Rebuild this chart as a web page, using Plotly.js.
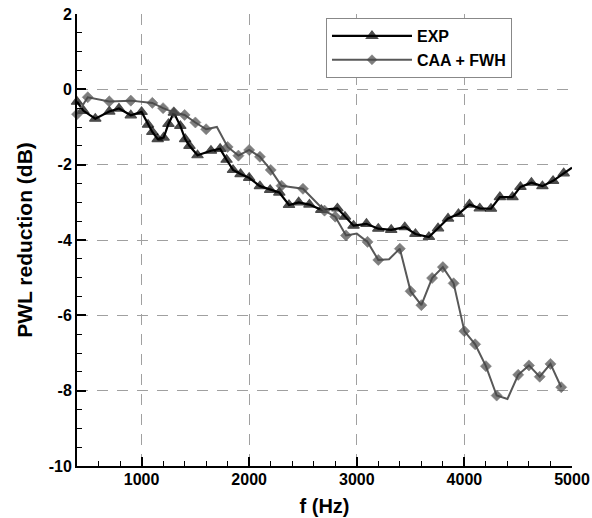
<!DOCTYPE html>
<html>
<head>
<meta charset="utf-8">
<script src="https://cdn.plot.ly/plotly-3.0.1.min.js"></script>
<style>html,body{margin:0;padding:0;background:#fff;}#chart{width:592px;height:518px;}</style>
</head>
<body>
<div id="chart"></div>
<script>
// EXP (measured)
const expFreq = [400,460,570,700,790,900,1000,1060,1100,1150,1205,1250,1300,1360,1405,1445,1520,1645,1730,1790,1850,1920,2000,2100,2195,2280,2370,2460,2560,2670,2820,2890,2970,3090,3200,3320,3446,3545,3670,3755,3848,3945,4047,4143,4247,4330,4447,4521,4623,4725,4824,4923,5000];
const expVal  = [-0.33,-0.57,-0.78,-0.59,-0.51,-0.69,-0.60,-0.94,-1.13,-1.32,-1.28,-0.92,-0.62,-0.97,-1.32,-1.50,-1.75,-1.63,-1.58,-1.87,-2.14,-2.25,-2.35,-2.57,-2.67,-2.74,-3.07,-3.00,-3.06,-3.20,-3.16,-3.38,-3.62,-3.57,-3.70,-3.73,-3.66,-3.84,-3.92,-3.69,-3.43,-3.31,-3.06,-3.16,-3.17,-2.86,-2.86,-2.59,-2.48,-2.57,-2.43,-2.23,-2.08];
const expUnmarked = [5000];

// CAA + FWH (computed)
const caaFreq = [400,500,700,900,1100,1200,1300,1400,1500,1600,1700,1800,1900,2000,2100,2200,2300,2500,2700,2800,2900,3000,3100,3200,3300,3400,3500,3600,3700,3800,3900,4000,4100,4200,4300,4400,4500,4600,4700,4800,4900];
const caaVal  = [-0.66,-0.21,-0.32,-0.30,-0.36,-0.50,-0.61,-0.68,-0.88,-1.06,-1.00,-1.53,-1.76,-1.61,-1.79,-2.14,-2.56,-2.64,-3.22,-3.38,-3.88,-3.83,-4.05,-4.53,-4.51,-4.23,-5.36,-5.73,-5.01,-4.72,-5.15,-6.42,-6.77,-7.35,-8.13,-8.22,-7.58,-7.33,-7.63,-7.29,-7.91];
const caaUnmarked = [1700,3000,3300,4400];

const seriesNames = ['EXP', 'CAA + FWH'];
const xTicks = [1000,2000,3000,4000,5000];
const yTicks = [-10,-8,-6,-4,-2,0,2];

const FONT = 'Liberation Sans, Arial, Helvetica, sans-serif';

function sizes(freqs, unmarked, s) {
  return freqs.map(f => unmarked.includes(f) ? 0 : s);
}

const traces = [
  {
    x: expFreq, y: expVal, name: seriesNames[0], type: 'scatter', mode: 'lines+markers',
    cliponaxis: false,
    line: {color: '#000000', width: 2.2},
    marker: {symbol: 'triangle-up', color: '#000000', size: sizes(expFreq, expUnmarked, 10),
             line: {color: '#000000', width: 1.2}}
  },
  {
    x: caaFreq, y: caaVal, name: seriesNames[1], type: 'scatter', mode: 'lines+markers',
    cliponaxis: false,
    line: {color: '#585858', width: 2},
    marker: {symbol: 'diamond', color: '#484848', size: sizes(caaFreq, caaUnmarked, 8.5),
             line: {color: '#484848', width: 0.6}}
  }
];

const axisCommon = {
  showline: true, linecolor: '#000', linewidth: 2, mirror: false,
  ticks: 'inside', ticklen: 9, tickwidth: 2, tickcolor: '#000',
  showgrid: true, gridcolor: '#a0a0a0', griddash: '11px,9px', gridwidth: 1,
  zeroline: false,
  tickfont: {family: FONT, size: 16, color: '#000', weight: 'bold'}
};

const layout = {
  width: 592, height: 518,
  margin: {l: 77, r: 20, t: 14, b: 52},
  paper_bgcolor: '#fff', plot_bgcolor: '#fff',
  showlegend: true,
  xaxis: Object.assign({}, axisCommon, {
    range: [400, 5000], tickvals: xTicks, ticktext: xTicks.map(String),
    ticklabelstandoff: -2,
    minor: {dtick: 200, tick0: 0, ticks: 'inside', ticklen: 5, tickwidth: 1, tickcolor: '#000', showgrid: false},
    title: {text: 'f (Hz)', font: {family: FONT, size: 20, color: '#000', weight: 'bold'}, standoff: 12}
  }),
  yaxis: Object.assign({}, axisCommon, {
    range: [-10, 2], tickvals: yTicks, ticktext: yTicks.map(String),
    minor: {dtick: 0.5, tick0: 0, ticks: 'inside', ticklen: 5, tickwidth: 1, tickcolor: '#000', showgrid: false},
    title: {text: 'PWL reduction (dB)', font: {family: FONT, size: 21, color: '#000', weight: 'bold'}, standoff: 10}
  }),
  legend: {
    x: 0.503, y: 0.991, xanchor: 'left', yanchor: 'top',
    bgcolor: '#fff', bordercolor: '#888', borderwidth: 1,
    itemwidth: 80,
    font: {family: FONT, size: 16, color: '#000', weight: 'bold'},
    tracegroupgap: 0
  }
};

Plotly.newPlot('chart', traces, layout, {displayModeBar: false, staticPlot: true});
</script>
</body>
</html>
